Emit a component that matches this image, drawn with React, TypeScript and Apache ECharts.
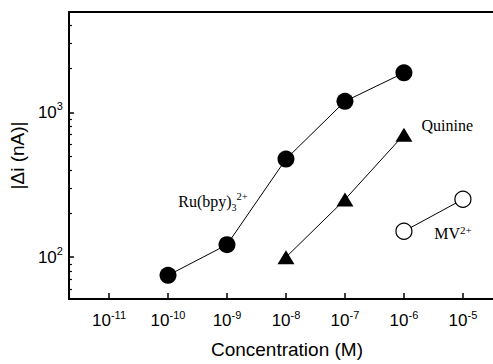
import React, { useEffect, useRef } from "react";
import * as echarts from "echarts";

// Concentrations (M) and |Δi| (nA)
const ruConc = [1e-10, 1e-9, 1e-8, 1e-7, 1e-6];
const ruCurrent = [75, 122, 475, 1190, 1870];
const quinineConc = [1e-8, 1e-7, 1e-6];
const quinineCurrent = [100, 250, 700];
const mvConc = [1e-6, 1e-5];
const mvCurrent = [151, 251];

const xTicks = [1e-11, 1e-10, 1e-9, 1e-8, 1e-7, 1e-6, 1e-5];
const yTicks = [100, 1000];
const yMinorTicks = [60, 70, 80, 90, 200, 300, 400, 500, 600, 700, 800, 900, 2000, 3000, 4000];

const X_MIN = Math.pow(10, -11.68);
const X_MAX = Math.pow(10, -4.49);
const Y_MIN = 51.5;
const Y_MAX = 4915;

const SANS = "Liberation Sans";
const SERIF = "Liberation Serif";

const powLabel = (v: number) => {
  const e = Math.round(Math.log10(v));
  return `10{sup|${e}}`;
};

const tickLabelStyle = {
  fontFamily: SANS,
  fontSize: 17,
  lineHeight: 23,
  color: "#000",
  formatter: powLabel,
  rich: {
    sup: { fontFamily: SANS, fontSize: 11, lineHeight: 23, verticalAlign: "top", color: "#000" },
  },
};

export default function App() {
  const ref = useRef<HTMLDivElement>(null);
  useEffect(() => {
    if (!ref.current) return;
    const chart = echarts.init(ref.current, undefined, { renderer: "svg" });
    const pair = (xs: number[], ys: number[]) => xs.map((x, i) => [x, ys[i]]);
    const ruData: any[] = pair(ruConc, ruCurrent).map((v) => ({ value: v }));
    ruData[1] = {
      value: ruData[1].value,
      label: {
        show: true,
        position: "inside",
        offset: [-14, -43],
        formatter: "Ru(bpy){sub|3}{sup|2+}",
        fontFamily: SERIF,
        fontSize: 16,
        lineHeight: 22,
        color: "#000",
        rich: {
          sub: { fontFamily: SERIF, fontSize: 10, lineHeight: 22, verticalAlign: "bottom", color: "#000" },
          sup: { fontFamily: SERIF, fontSize: 10.5, lineHeight: 22, verticalAlign: "top", color: "#000" },
        },
      },
    };
    const qData: any[] = pair(quinineConc, quinineCurrent).map((v) => ({ value: v }));
    qData[2] = {
      value: qData[2].value,
      label: {
        show: true,
        position: "right",
        distance: 9,
        offset: [0, -9],
        formatter: "Quinine",
        fontFamily: SERIF,
        fontSize: 16,
        color: "#000",
      },
    };
    const mvData: any[] = pair(mvConc, mvCurrent).map((v) => ({ value: v }));
    mvData[0] = {
      value: mvData[0].value,
      label: {
        show: true,
        position: "inside",
        offset: [49, 2.6],
        formatter: "MV{sup|2+}",
        fontFamily: SERIF,
        fontSize: 16,
        lineHeight: 18,
        color: "#000",
        rich: {
          sup: { fontFamily: SERIF, fontSize: 11, lineHeight: 18, verticalAlign: "top", color: "#000" },
        },
      },
    };

    const axisLine = { show: true, onZero: false, lineStyle: { color: "#000", width: 2 } };

    chart.setOption({
      animation: false,
      backgroundColor: "#fff",
      grid: { left: 68, top: 12, right: 0, bottom: 60, containLabel: false },
      xAxis: [
        {
          type: "log",
          logBase: 10,
          min: X_MIN,
          max: X_MAX,
          position: "bottom",
          axisLine,
          axisTick: { show: true, inside: true, length: 6, customValues: xTicks, lineStyle: { color: "#000", width: 1.5 } },
          axisLabel: { ...tickLabelStyle, customValues: xTicks, margin: 10 },
          splitLine: { show: false },
          name: "Concentration (M)",
          nameLocation: "middle",
          nameGap: 41,
          nameTextStyle: { fontFamily: SANS, fontSize: 19, color: "#000", padding: [0, 0, 0, 12] },
        },
        {
          type: "log",
          logBase: 10,
          min: X_MIN,
          max: X_MAX,
          position: "top",
          axisLine,
          axisTick: { show: false },
          axisLabel: { show: false },
          splitLine: { show: false },
        },
      ],
      yAxis: [
        {
          type: "log",
          logBase: 10,
          min: Y_MIN,
          max: Y_MAX,
          position: "left",
          axisLine,
          axisTick: { show: true, inside: true, length: 5, customValues: yTicks, lineStyle: { color: "#000", width: 1.5 } },
          axisLabel: { ...tickLabelStyle, customValues: yTicks, margin: 6 },
          splitLine: { show: false },
          name: "|Δi (nA)|",
          nameLocation: "middle",
          nameGap: 35,
          nameTextStyle: { fontFamily: SANS, fontSize: 19, color: "#000" },
        },
        {
          type: "log",
          logBase: 10,
          min: Y_MIN,
          max: Y_MAX,
          position: "left",
          axisLine: { show: false },
          axisTick: { show: true, inside: true, length: 3, customValues: yMinorTicks, lineStyle: { color: "#000", width: 1.2 } },
          axisLabel: { show: false },
          splitLine: { show: false },
        },
      ],
      series: [
        {
          type: "line",
          name: "Ru(bpy)3 2+",
          data: ruData,
          symbol: "circle",
          symbolSize: 17,
          itemStyle: { color: "#000" },
          lineStyle: { color: "#000", width: 1 },
          label: { show: false },
        },
        {
          type: "line",
          name: "Quinine",
          data: qData,
          symbol: "triangle",
          symbolSize: [17, 14],
          itemStyle: { color: "#000" },
          lineStyle: { color: "#000", width: 1 },
          label: { show: false },
        },
        {
          type: "line",
          name: "MV2+",
          data: mvData,
          symbol: "circle",
          symbolSize: 16,
          itemStyle: { color: "#fff", borderColor: "#000", borderWidth: 1.2 },
          lineStyle: { color: "#000", width: 1 },
          label: { show: false },
        },
      ],
    });
    return () => chart.dispose();
  }, []);
  return (
    <div
      ref={ref}
      style={{ position: "fixed", left: 0, top: 0, width: 493, height: 364, background: "#fff" }}
    />
  );
}
